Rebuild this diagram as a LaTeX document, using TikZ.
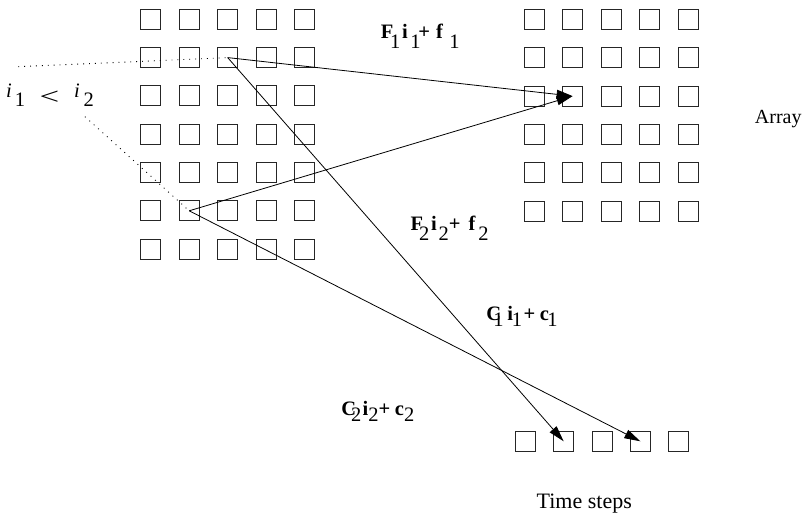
\documentclass[tikz,border=0pt]{standalone}
\usepackage{fontspec}
\setmainfont{Liberation Serif}
\usetikzlibrary{arrows.meta}
\newcommand{\lw}[2]{\raisebox{-#1pt}{\mdseries\upshape #2}}
\newcommand{\kk}[1]{\kern#1pt\relax}
\begin{document}
\begin{tikzpicture}[x=1pt,y=-1pt,
  cell/.style={draw=black!85,line width=0.9pt,minimum size=20pt,inner sep=0pt,outer sep=0pt},
  arr/.style={line width=0.8pt,-{Triangle[length=16pt,width=9pt]}},
  dots/.style={line width=0.9pt,dash pattern=on 0.9pt off 5pt},
  lab/.style={anchor=base west,inner sep=0pt,font=\fontsize{20.5}{24}\selectfont}]
\useasboundingbox (0,0) rectangle (812,516);
% left grid
\foreach \r in {1,...,7}{\foreach \c in {1,...,5}{
  \node[cell] (L-\r-\c) at ({150.7+38.5*(\c-1)},{19.3+38.3*(\r-1)}) {};}}
% right grid
\foreach \r in {1,...,6}{\foreach \c in {1,...,5}{
  \node[cell] (R-\r-\c) at ({534+38.6*(\c-1)},{19.3+38.4*(\r-1)}) {};}}
% time steps
\foreach \c in {1,...,5}{
  \node[cell] (T-\c) at ({525.3+38.35*(\c-1)},441.3) {};}
% connectors
\draw[arr] (L-2-3.center) -- (R-3-2.center);
\draw[arr] (L-6-2.center) -- (R-3-2.center);
\draw[arr] (L-2-3.center) -- (T-2.center);
\draw[arr] (L-6-2.center) -- (T-4.center);
\coordinate (d1) at (18.3,66.7);
\coordinate (d2) at (85,116.7);
\draw[dots] (d1) -- (L-2-3.center);
\draw[dots] (d2) -- (L-6-2.center);
% labels
\node[lab] (ineq) at (6,97.3) {\itshape i\kk{3}\lw{9.4}{1}\kk{14.5}\lw{7}{\scalebox{1.7}[1.15]{<}}\kk{14.8}i\kk{3.8}\lw{9.4}{2}};
\node[lab] (f1) at (380.7,38.3) {\bfseries F\kk{-3.4}\lw{10}{1}\kk{1.8}i\kk{2.6}\lw{10}{1}\kk{-2.2}+\kk{6}f\kk{6.4}\lw{10}{1}};
\node[lab] (f2) at (410.4,230) {\bfseries F\kk{-3.9}\lw{10}{2}\kk{1.7}i\kk{1.7}\lw{10}{2}+\kk{8}f\kk{3}\lw{10}{2}};
\node[lab] (c1) at (486.1,320) {\bfseries C\kk{-7.7}\lw{6.7}{1}\kk{3.6}i\kk{-1.2}\lw{6.7}{1}\kk{1.5}+\kk{4.8}c\kk{-1.6}\lw{6.7}{1}};
\node[lab] (c2) at (341.1,415) {\bfseries C\kk{-5.1}\lw{6.7}{2}\kk{1.3}i\lw{6.7}{2}+\kk{4.8}c\lw{6.7}{2}};
\node[anchor=base west,inner sep=0pt,font=\fontsize{20}{24}\selectfont] (arrlab) at (754.7,124) {Array};
\node[anchor=base west,inner sep=0pt,font=\fontsize{22}{26}\selectfont] (ts) at (536.5,508.3) {Time steps};
\end{tikzpicture}
\end{document}
